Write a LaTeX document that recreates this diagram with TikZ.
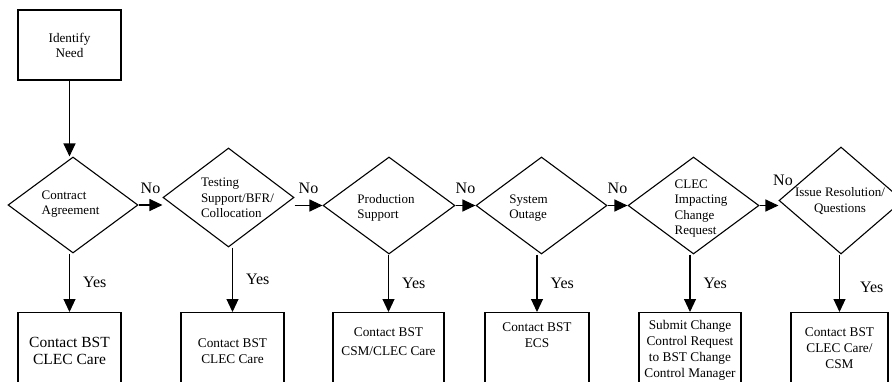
\documentclass[tikz,border=0pt]{standalone}
\usepackage{fontspec}
\setmainfont{Liberation Serif}
\usetikzlibrary{arrows.meta,calc,shapes.geometric}

\begin{document}
\begin{tikzpicture}[x=1pt,y=-1pt,line width=1.1pt,
		dec/.style={draw,diamond,inner sep=0pt},
		box/.style={draw,rectangle,inner sep=0pt,anchor=north,minimum height=90},
		dtxt/.style={font=\fontsize{13}{15.5}\selectfont,align=left,inner sep=0pt},
		btxt/.style={font=\fontsize{13.3}{16}\selectfont,align=center,inner sep=0pt},
		lbl/.style={font=\fontsize{16}{18}\selectfont,inner sep=0pt},
		arr/.style={-{Triangle[length=13pt,width=12pt]}}]
		\path[use as bounding box,clip] (0,0) rectangle (892,381);
		% start
		\node[draw,minimum width=103,minimum height=70,align=center,
			font=\fontsize{13.2}{15}\selectfont] (need) at (69.5,45) {Identify\\Need};
		% decisions
		\node[dec,minimum width=130,minimum height=96] (d1) at (73,205) {};
		\node[dec,minimum width=131,minimum height=99] (d2) at (228.5,197.5) {};
		\node[dec,minimum width=132,minimum height=97] (d3) at (389,205.5) {};
		\node[dec,minimum width=131,minimum height=97] (d4) at (541.5,205.5) {};
		\node[dec,minimum width=131,minimum height=97] (d5) at (693.5,205.5) {};
		\node[dec,minimum width=124,minimum height=107] (d6) at (841,200.5) {};
		\node[dtxt] (t1) at ($(d1)+(-2.5,-1)$) {Contract\\Agreement};
		\node[dtxt] (t2) at ($(d2)+(9,0.5)$) {Testing\\Support/BFR/\\Collocation};
		\node[dtxt] (t3) at ($(d3)+(-3,2.5)$) {Production\\Support};
		\node[dtxt] (t4) at ($(d4)+(-13,2.5)$) {System\\Outage};
		\node[dtxt] (t5) at ($(d5)+(7.5,3)$) {CLEC\\Impacting\\Change\\Request};
		\node[dtxt,align=center] (t6) at ($(d6)+(-1,0.5)$) {Issue Resolution/\\Questions};
		% contacts
		\node[box,minimum width=103] (b1) at (69.5,312) {};
		\node[box,minimum width=103] (b2) at (232.5,312) {};
		\node[box,minimum width=111] (b3) at (388.5,312) {};
		\node[box,minimum width=104] (b4) at (537,312) {};
		\node[box,minimum width=102] (b5) at (690,312) {};
		\node[box,minimum width=97] (b6) at (839.5,312) {};
		\node[btxt,font=\fontsize{15.5}{16.5}\selectfont] (c1) at ($(b1.north)+(0,39)$) {Contact BST\\CLEC Care};
		\node[btxt] (c2) at ($(b2.north)+(0,39)$) {Contact BST\\CLEC Care};
		\node[btxt] (c3) at ($(b3.north)+(0,29.5)$) {Contact BST\\[3pt]CSM/CLEC Care};
		\node[btxt] (c4) at ($(b4.north)+(0,23)$) {Contact BST\\ECS};
		\node[btxt] (c5) at ($(b5.north)+(0,38)$) {Submit Change\\Control Request\\to BST Change\\Control Manager};
		\node[btxt] (c6) at ($(b6.north)+(0,36.5)$) {Contact BST\\CLEC Care/\\CSM};
		% flow
		\draw[arr] (need.south)--(need.south |- d1.north);
		\draw[arr] (d1.east)--(d1.east -| d2.west) node[lbl,midway,above=11pt] (n1) {No};
		\draw[arr] (d2.east |- d3.west)--(d3.west) node[lbl,midway,above=11pt] (n2) {No};
		\draw[arr] (d3.east)--(d4.west) node[lbl,midway,above=11pt] (n3) {No};
		\draw[arr] (d4.east)--(d5.west) node[lbl,midway,above=11pt] (n4) {No};
		\draw[arr] (d5.east)--(d5.east -| d6.west) node[lbl,midway,above=19pt,xshift=14pt] (n5) {No};
		\draw[arr] (b1.north |- d1.south)--(b1.north) node[lbl,midway,right=13pt] (y1) {Yes};
		\draw[arr] (b2.north |- d2.south)--(b2.north) node[lbl,midway,right=13pt] (y2) {Yes};
		\draw[arr] (b3.north |- d3.south)--(b3.north) node[lbl,midway,right=13pt] (y3) {Yes};
		\draw[arr] (b4.north |- d4.south)--(b4.north) node[lbl,midway,right=13pt] (y4) {Yes};
		\draw[arr] (b5.north |- d5.south)--(b5.north) node[lbl,midway,right=13pt] (y5) {Yes};
		\draw[arr] (b6.north |- d6.south)--(b6.north) node[lbl,midway,right=20pt,yshift=-4pt] (y6) {Yes};
	\end{tikzpicture}
\end{document}
